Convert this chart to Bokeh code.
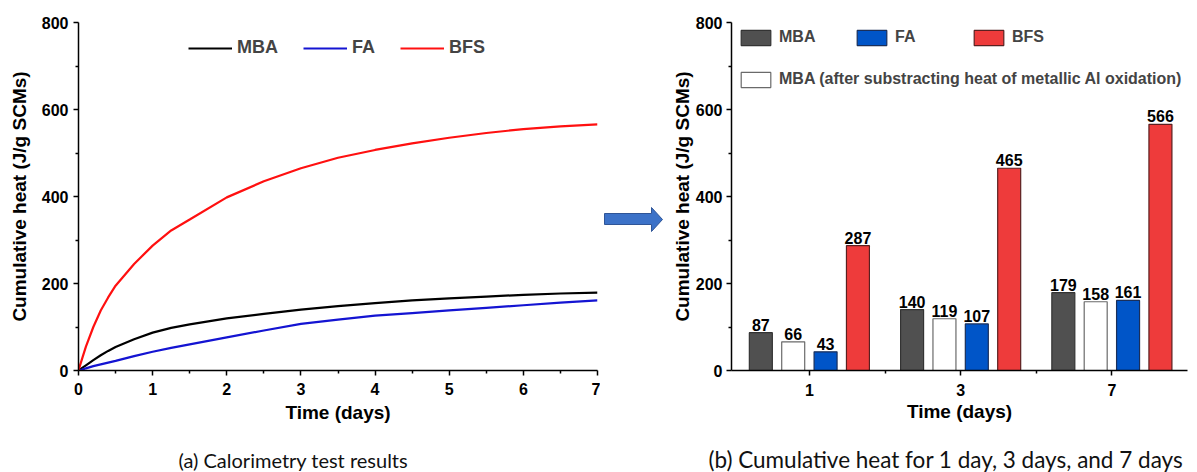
from bokeh.plotting import figure
from bokeh.layouts import row, column
from bokeh.models import Range1d, FixedTicker, Legend, LegendItem, ColumnDataSource, Label
from bokeh.transform import dodge
from bokeh.core.properties import value
from bokeh.embed import file_html
from bokeh.resources import INLINE

# ---------------- data ----------------
time_days = [0, 0.05, 0.1, 0.2, 0.3, 0.4, 0.5, 0.75, 1.0, 1.25, 1.5, 2.0, 2.5,
             3.0, 3.5, 4.0, 4.5, 5.0, 5.5, 6.0, 6.5, 7.0]
mba_curve = [0, 6, 12, 24, 35, 45, 54, 72, 87, 98, 106, 120, 130,
             140, 148, 155, 161, 166, 170, 174, 177, 179]
fa_curve = [0, 2, 5, 10, 14, 18, 22, 33, 43, 52, 60, 76, 92,
            107, 117, 126, 132, 138, 144, 150, 156, 161]
bfs_curve = [0, 28, 55, 100, 138, 168, 195, 245, 287, 322, 347, 398, 435,
             465, 489, 507, 522, 535, 546, 555, 561, 566]

days = ["1", "3", "7"]
mba_bar = [87, 140, 179]
mba_corr_bar = [66, 119, 158]
fa_bar = [43, 107, 161]
bfs_bar = [287, 465, 566]

series_names = ["MBA", "FA", "BFS"]
corr_name = "MBA (after substracting heat of metallic Al oxidation)"

caption_a = "(a) Calorimetry test results"
caption_b = "(b) Cumulative heat for 1 day, 3 days, and 7 days"

FONT = "Liberation Sans"
CAP_FONT = "Lato"
TOP = 22
BOTTOM = 70
MAIN_H = 440
CAP_H = 32


def style_axes(p, label_size="19px"):
    p.outline_line_color = None
    p.xgrid.visible = False
    p.ygrid.visible = False
    for ax in (p.xaxis[0], p.yaxis[0]):
        ax.axis_line_width = 1.5
        ax.major_tick_line_width = 1.5
        ax.minor_tick_line_width = 1.5
        ax.major_tick_in = 0
        ax.major_tick_out = 5
        ax.minor_tick_in = 0
        ax.minor_tick_out = 3
        ax.major_label_text_font = FONT
        ax.major_label_text_font_style = "bold"
        ax.major_label_text_font_size = "16px"
        ax.major_label_text_color = "black"
        ax.axis_label_text_font = FONT
        ax.axis_label_text_font_style = "bold"
        ax.axis_label_text_font_size = label_size
        ax.axis_label_text_color = "black"


# ---------------- left: curves ----------------
p1 = figure(width=600, height=MAIN_H, x_range=Range1d(0, 7), y_range=Range1d(0, 800),
            output_backend="svg", toolbar_location=None,
            min_border_left=78, min_border_right=3, min_border_top=TOP, min_border_bottom=BOTTOM)
style_axes(p1)
p1.xaxis.ticker = FixedTicker(ticks=[0, 1, 2, 3, 4, 5, 6, 7],
                              minor_ticks=[0.5, 1.5, 2.5, 3.5, 4.5, 5.5, 6.5])
p1.yaxis.ticker = FixedTicker(ticks=[0, 200, 400, 600, 800], minor_ticks=[100, 300, 500, 700])
p1.xaxis.axis_label = "Time (days)"
p1.yaxis.axis_label = "Cumulative heat (J/g SCMs)"
p1.yaxis.major_label_standoff = 5
p1.yaxis.axis_label_standoff = 9
p1.xaxis.major_label_standoff = 7
p1.xaxis.axis_label_standoff = 4

src1 = ColumnDataSource(dict(t=time_days, mba=mba_curve, fa=fa_curve, bfs=bfs_curve))
r_mba = p1.line("t", "mba", source=src1, line_color="black", line_width=2.2)
r_fa = p1.line("t", "fa", source=src1, line_color="#1414D2", line_width=2.2)
r_bfs = p1.line("t", "bfs", source=src1, line_color="#FF1010", line_width=2.2)

left_leg_x = [110, 225, 322]
for name, rend, lx in zip(series_names, [r_mba, r_fa, r_bfs], left_leg_x):
    lg = Legend(items=[LegendItem(label=name, renderers=[rend])], location=(lx, 312),
                padding=0, margin=0, spacing=0, border_line_color=None,
                background_fill_alpha=0, glyph_width=44, glyph_height=20,
                label_standoff=5, label_height=20,
                label_text_font=FONT, label_text_font_style="bold",
                label_text_font_size="18px")
    p1.add_layout(lg)

# ---------------- middle: arrow ----------------
arrow_x = [4, 51, 51, 62, 51, 51, 4]
arrow_y = [213, 213, 207, 219, 231, 224, 224]
pm = figure(width=63, height=MAIN_H, x_range=Range1d(0, 63),
            y_range=Range1d(MAIN_H - BOTTOM, TOP),
            output_backend="svg", toolbar_location=None,
            min_border_left=0, min_border_right=0, min_border_top=TOP, min_border_bottom=BOTTOM)
pm.axis.visible = False
pm.grid.visible = False
pm.outline_line_color = None
pm.patch(arrow_x, arrow_y, fill_color="#3C72C8", line_color="#2F5597", line_width=1)

# ---------------- right: bars ----------------
xpos = [i + 1 for i in range(len(days))]
p2 = figure(width=534, height=MAIN_H, x_range=Range1d(0.485, 3.5), y_range=Range1d(0, 800),
            output_backend="svg", toolbar_location=None,
            min_border_left=68, min_border_right=10, min_border_top=TOP, min_border_bottom=BOTTOM)
style_axes(p2)
p2.xaxis.ticker = FixedTicker(ticks=xpos, minor_ticks=[1.5, 2.5])
p2.xaxis.major_label_overrides = {x: d for x, d in zip(xpos, days)}
p2.yaxis.ticker = FixedTicker(ticks=[0, 200, 400, 600, 800], minor_ticks=[100, 300, 500, 700])
p2.xaxis.axis_label = "Time (days)"
p2.yaxis.axis_label = "Cumulative heat (J/g SCMs)"
p2.yaxis.major_label_standoff = 4
p2.yaxis.axis_label_standoff = 0
p2.xaxis.major_label_standoff = 8
p2.xaxis.axis_label_standoff = 2

src2 = ColumnDataSource(dict(x=xpos, mba=mba_bar, corr=mba_corr_bar, fa=fa_bar, bfs=bfs_bar,
                             mba_t=[str(v) for v in mba_bar],
                             corr_t=[str(v) for v in mba_corr_bar],
                             fa_t=[str(v) for v in fa_bar],
                             bfs_t=[str(v) for v in bfs_bar]))
bar_w = 0.152
step = 0.214
specs = [("mba", "mba_t", "#505050", "#333333", -1.5),
         ("corr", "corr_t", "#FFFFFF", "#6A6A6A", -0.5),
         ("fa", "fa_t", "#0055C8", "#1A2F5A", 0.5),
         ("bfs", "bfs_t", "#EE3B3B", "#5A2020", 1.5)]
bar_r = {}
for col, tcol, fill, line, k in specs:
    bar_r[col] = p2.vbar(x=dodge("x", k * step, range=p2.x_range), top=col, width=bar_w,
                         source=src2, fill_color=fill, line_color=line, line_width=1.2)
    p2.text(x=dodge("x", k * step, range=p2.x_range), y=col, text=tcol, source=src2,
            text_align="center", text_baseline="bottom", y_offset=-2,
            text_font=value(FONT), text_font_style="bold", text_font_size="16px",
            text_color="black")

right_leg = [("MBA", bar_r["mba"], 6, 323), ("FA", bar_r["fa"], 122, 323),
             ("BFS", bar_r["bfs"], 239, 323), (corr_name, bar_r["corr"], 6, 281)]
for name, rend, lx, ly in right_leg:
    lg = Legend(items=[LegendItem(label=name, renderers=[rend])], location=(lx, ly),
                padding=0, margin=0, spacing=0, border_line_color=None,
                background_fill_alpha=0, glyph_width=37, glyph_height=19,
                label_standoff=5, label_height=20,
                label_text_font=FONT, label_text_font_style="bold",
                label_text_font_size="16px")
    p2.add_layout(lg)

# ---------------- captions strip ----------------
pc = figure(width=1197, height=CAP_H, x_range=Range1d(0, 1197), y_range=Range1d(0, CAP_H),
            output_backend="svg", toolbar_location=None, min_border=0)
pc.axis.visible = False
pc.grid.visible = False
pc.outline_line_color = None
pc.add_layout(Label(x=178, y=12.5, text=caption_a, text_align="left", text_baseline="middle",
                    text_font=CAP_FONT, text_font_size="20px", text_color="#111111"))
pc.add_layout(Label(x=708, y=13.5, text=caption_b, text_align="left", text_baseline="middle",
                    text_font=CAP_FONT, text_font_size="22.5px", text_color="#111111"))

layout = column(row(p1, pm, p2, spacing=0), pc, spacing=0)
open("out.html", "w").write(file_html(layout, INLINE))
